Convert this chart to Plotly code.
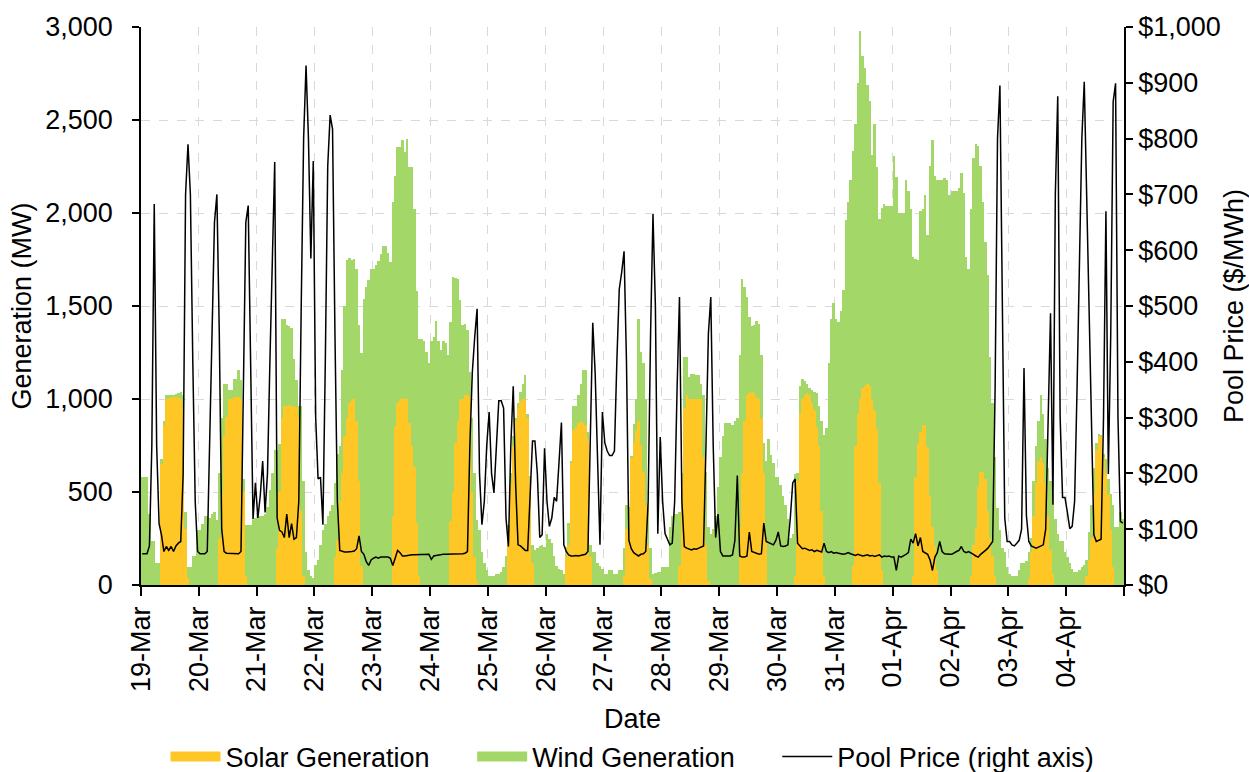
import pandas as pd
import plotly.graph_objects as go

# ---- data: hourly values, one list of 24 per day (19-Mar .. 04-Apr) ----
days = ["19-Mar", "20-Mar", "21-Mar", "22-Mar", "23-Mar", "24-Mar", "25-Mar", "26-Mar",
        "27-Mar", "28-Mar", "29-Mar", "30-Mar", "31-Mar", "01-Apr", "02-Apr", "03-Apr", "04-Apr"]

solar_mw = [
    [0,0,0,0,0,0,0,0, 650, 860, 1000, 1010, 1010, 1015, 1010, 1005, 1000, 950, 300, 40, 0,0,0,0],
    [0,0,0,0,0,0,0,0, 250, 490, 800, 902, 1000, 1000, 1010, 1010, 1010, 1000, 500, 50, 0,0,0,0],
    [0,0,0,0,0,0,0,0, 200, 500, 900, 960, 965, 970, 965, 960, 955, 900, 400, 50, 0,0,0,0],
    [0,0,0,0,0,0,0,0, 150, 240, 450, 600, 800, 900, 980, 1000, 1000, 880, 560, 100, 0,0,0,0],
    [0,0,0,0,0,0,0,0, 372, 853, 980, 1000, 1000, 1005, 1000, 873, 750, 637, 333, 50, 0,0,0,0],
    [0,0,0,0,0,0,0,0, 343, 500, 765, 882, 1000, 1000, 1020, 1020, 1010, 500, 150, 20, 0,0,0,0],
    [0,0,0,0,0,0,0,0, 300, 550, 750, 880, 950, 990, 1000, 1000, 900, 550, 120, 0, 0,0,0,0],
    [0,0,0,0,0,0,0,0, 150, 216, 660, 833, 850, 873, 880, 870, 860, 784, 150, 0, 0,0,0,0],
    [0,0,0,0,0,0,0,0, 50, 300, 412, 686, 765, 830, 882, 755, 608, 431, 216, 30, 0,0,0,0],
    [0,0,0,0,0,0,0, 100, 550, 950, 1020, 1000, 1000, 1000, 1000, 1000, 1000, 686, 216, 20, 0,0,0,0],
    [0,0,0,0,0,0,0,0, 314, 600, 882, 1020, 1030, 1039, 1030, 1010, 1000, 900, 600, 250, 0,0,0,0],
    [0,0,0,0,0,0,0, 50, 560, 920, 1000, 1020, 1030, 1020, 980, 940, 850, 750, 400, 50, 0,0,0,0],
    [0,0,0,0,0,0,0, 100, 750, 920, 1000, 1060, 1070, 1080, 1070, 1000, 940, 840, 550, 80, 0,0,0,0],
    [0,0,0,0,0,0,0,0, 50, 580, 760, 820, 860, 860, 740, 480, 310, 210, 80, 0, 0,0,0,0],
    [0,0,0,0,0,0,0,0, 50, 216, 314, 529, 608, 608, 569, 400, 255, 157, 50, 0, 0,0,0,0],
    [0,0,0,0,0,0,0,0, 30, 176, 373, 549, 667, 686, 657, 549, 373, 186, 60, 0, 0,0,0,0],
    [0,0,0,0,0,0,0,0, 50, 137, 255, 490, 725, 804, 800, 686, 600, 490, 294, 98, 0,0,0,0],
]

wind_mw = [
    [578, 578, 578, 382, 235, 235, 118, 118, 30, 20, 20, 10, 10, 5, 15, 25, 35, 70, 92, 58, 98, 157, 157, 294],
    [294, 330, 372, 372, 360, 380, 390, 350, 350, 410, 278, 176, 50, 50, 98, 98, 147, 100, 68, 273, 323, 323, 350, 360],
    [372, 372, 372, 380, 420, 510, 600, 725, 525, 260, 531, 471, 435, 420, 415, 255, 145, 60, 560, 510, 176, 78, 50, 40],
    [110, 137, 215, 294, 330, 372, 400, 431, 399, 466, 300, 557, 700, 845, 780, 750, 755, 820, 840, 1145, 1540, 1600, 1640, 1700],
    [1700, 1720, 1740, 1780, 1823, 1823, 1784, 1735, 1687, 1347, 1373, 1353, 1390, 1325, 1400, 1372, 1495, 1383, 1245, 1273, 1323, 1314, 1255, 1196],
    [1314, 1333, 1422, 1314, 1265, 1314, 1300, 1235, 1069, 1157, 885, 765, 530, 400, 382, 353, 137, 400, 450, 330, 294, 176, 120, 78],
    [49, 49, 50, 60, 60, 70, 98, 157, 20, 50, 50, 20, 30, 50, 78, 127, 22, 38, 96, 186, 200, 210, 216, 205],
    [274, 250, 225, 157, 100, 85, 78, 59, 56, 117, 7, 127, 110, 147, 198, 287, 297, 40, 66, 176, 176, 118, 100, 88],
    [59, 59, 78, 78, 59, 59, 78, 78, 150, 131, 9, 10, 98, 170, 549, 500, 588, 569, 215, 170, 59, 65, 69, 69],
    [98, 98, 98, 314, 373, 382, 382, 292, 50, 275, 205, 118, 137, 137, 130, 130, 78, 334, 392, 294, 274, 300, 372, 529],
    [686, 800, 873, 870, 873, 860, 882, 900, 921, 1047, 718, 529, 411, 353, 370, 412, 402, 335, 165, 417, 784, 700, 657, 578],
    [578, 539, 480, 431, 353, 255, 274, 548, 40, 149, 110, 78, 50, 40, 70, 100, 180, 210, 482, 754, 843, 1196, 1431, 1515],
    [1431, 1412, 1471, 1588, 1961, 2059, 2176, 2233, 1730, 1780, 1980, 1783, 1710, 1610, 1530, 1314, 1540, 1405, 1420, 1949, 2049, 2039, 2039, 2040],
    [2304, 2196, 2000, 2000, 2000, 2176, 2118, 2020, 1715, 1175, 985, 1190, 1160, 1238, 1142, 1775, 2082, 1990, 2100, 2176, 2176, 2186, 2180, 2098],
    [2118, 2118, 2118, 2137, 2216, 2108, 1765, 1700, 1970, 2078, 2059, 1831, 1647, 1451, 1274, 1267, 970, 823, 636, 412, 294, 200, 176, 98],
    [59, 50, 49, 49, 78, 118, 118, 130, 146, 79, 187, 196, 215, 334, 265, 235, 254, 374, 430, 353, 274, 235, 235, 176],
    [150, 118, 88, 69, 69, 80, 98, 110, 87, 147, 176, 137, 40, 10, 4, 20, 76, 79, 196, 333, 314, 314, 392, 353],
]

pool_price = [
    [56, 56, 56, 70, 250, 683, 250, 110, 90, 60, 69, 62, 69, 60, 70, 75, 78, 200, 700, 790, 700, 400, 150, 60],
    [56, 56, 56, 60, 250, 450, 650, 700, 450, 100, 60, 57, 57, 56, 56, 56, 56, 60, 350, 650, 680, 350, 118, 183],
    [120, 160, 222, 130, 200, 400, 600, 758, 120, 98, 95, 85, 127, 85, 110, 82, 85, 150, 500, 800, 931, 800, 585, 760],
    [300, 190, 193, 108, 400, 750, 842, 817, 450, 150, 62, 60, 59, 59, 59, 60, 61, 65, 88, 60, 55, 42, 35, 45],
    [48, 50, 48, 50, 50, 50, 50, 48, 35, 48, 62, 58, 52, 52, 53, 53, 54, 54, 54, 54, 54, 55, 55, 55],
    [46, 52, 53, 54, 54, 55, 55, 55, 55, 55, 55, 56, 56, 56, 57, 60, 250, 380, 444, 495, 200, 108, 150, 250],
    [310, 200, 165, 250, 330, 330, 317, 120, 69, 250, 356, 180, 72, 70, 66, 62, 62, 150, 258, 258, 200, 85, 90, 245],
    [150, 105, 120, 157, 150, 220, 291, 72, 60, 54, 52, 52, 53, 52, 53, 54, 55, 60, 300, 470, 380, 200, 72, 310],
    [255, 240, 232, 232, 240, 400, 530, 560, 598, 400, 80, 65, 58, 55, 52, 55, 56, 60, 150, 450, 665, 500, 92, 265],
    [150, 92, 80, 72, 75, 150, 350, 516, 150, 69, 66, 64, 63, 65, 64, 66, 68, 70, 250, 450, 516, 250, 85, 127],
    [60, 52, 52, 52, 52, 54, 80, 196, 52, 50, 50, 52, 95, 60, 58, 57, 55, 56, 111, 78, 76, 75, 72, 80],
    [95, 70, 69, 70, 72, 120, 183, 190, 75, 70, 65, 66, 64, 62, 63, 60, 62, 60, 59, 75, 60, 58, 60, 57],
    [58, 57, 56, 55, 56, 58, 56, 54, 53, 55, 54, 52, 53, 54, 52, 53, 51, 52, 54, 50, 52, 51, 52, 50],
    [50, 26, 52, 50, 52, 55, 58, 82, 75, 92, 70, 85, 60, 58, 55, 45, 26, 50, 58, 78, 60, 56, 55, 55],
    [55, 58, 60, 62, 69, 60, 58, 60, 58, 55, 52, 50, 55, 58, 62, 66, 72, 78, 350, 800, 895, 450, 120, 78],
    [78, 72, 70, 75, 80, 100, 389, 124, 78, 70, 68, 66, 68, 70, 72, 100, 300, 487, 144, 700, 876, 300, 157, 157],
    [130, 101, 105, 150, 350, 600, 800, 902, 700, 480, 280, 90, 78, 80, 82, 300, 670, 199, 450, 866, 899, 300, 114, 111],
]

# ---- build series ----
solar = [v for d in solar_mw for v in d]
wind = [v for d in wind_mw for v in d]
price = [v for d in pool_price for v in d]
n = len(solar)
hours = pd.date_range("2019-03-19 00:30", periods=n, freq="h")
day_ticks = list(pd.date_range("2019-03-19", periods=len(days) + 1, freq="D"))
tick_text = days + [""]

FONT = "Liberation Sans, Arial, sans-serif"
FS = 27
GRID = "#d9d9d9"
SOLAR_C = "#FFC726"
WIND_C = "#A3D869"
PAD = "\u00a0" * 5  # spacing between legend entries

fig = go.Figure()
fig.add_trace(go.Bar(x=hours, y=solar, name="Solar Generation", showlegend=False,
                     marker=dict(color=SOLAR_C, line=dict(width=0)), width=3600 * 1000))
fig.add_trace(go.Bar(x=hours, y=wind, name="Wind Generation", showlegend=False,
                     marker=dict(color=WIND_C, line=dict(width=0)), width=3600 * 1000))
fig.add_trace(go.Scatter(x=hours, y=price, name="Pool Price (right axis)", yaxis="y2",
                         mode="lines", line=dict(color="black", width=1.5), showlegend=False))

# legend entries (wide swatches like the original)
fig.add_trace(go.Scatter(x=[None], y=[None], mode="lines", name="Solar Generation" + PAD,
                         line=dict(color=SOLAR_C, width=20)))
fig.add_trace(go.Scatter(x=[None], y=[None], mode="lines", name="Wind Generation" + PAD,
                         line=dict(color=WIND_C, width=20)))
fig.add_trace(go.Scatter(x=[None], y=[None], mode="lines", name="Pool Price (right axis)",
                         line=dict(color="black", width=1.5)))

fig.update_layout(
    width=1249, height=772,
    margin=dict(l=141, r=125, t=27, b=187, autoexpand=False),
    paper_bgcolor="white", plot_bgcolor="white",
    font=dict(family=FONT, size=FS, color="black"),
    barmode="stack", bargap=0,
    showlegend=True,
    legend=dict(orientation="h", x=0.5, xanchor="center", y=-0.308, yanchor="middle",
                font=dict(size=FS), traceorder="normal", itemwidth=50),
    xaxis=dict(
        type="date", range=[day_ticks[0], day_ticks[-1]], automargin=False,
        tickmode="array", tickvals=day_ticks, ticktext=tick_text,
        tickangle=-90, ticks="outside", ticklen=9, tickcolor="black", tickwidth=1.5,
        showline=True, linecolor="black", linewidth=1.5,
        showgrid=True, gridcolor=GRID, griddash="dash", gridwidth=1,
        title=dict(text="Date", font=dict(size=FS), standoff=18),
        tickfont=dict(size=FS),
    ),
    yaxis=dict(
        range=[0, 3000], dtick=500, tickformat=",", automargin=False,
        ticks="outside", ticklen=7, tickcolor="black", tickwidth=1.5,
        ticklabelstandoff=14,
        showline=True, linecolor="black", linewidth=1.5,
        showgrid=True, gridcolor=GRID, griddash="dash", gridwidth=1,
        zeroline=False,
        title=dict(text="Generation (MW)", font=dict(size=FS), standoff=6),
        tickfont=dict(size=FS),
    ),
    yaxis2=dict(
        overlaying="y", side="right", range=[0, 1000], dtick=100, automargin=False,
        tickprefix="$", tickformat=",",
        ticks="outside", ticklen=7, tickcolor="black", tickwidth=1.5,
        showline=True, linecolor="black", linewidth=1.5,
        showgrid=False, zeroline=False,
        title=dict(text="Pool Price ($/MWh)", font=dict(size=FS), standoff=4),
        tickfont=dict(size=FS),
    ),
)

fig.write_html("out.html")
